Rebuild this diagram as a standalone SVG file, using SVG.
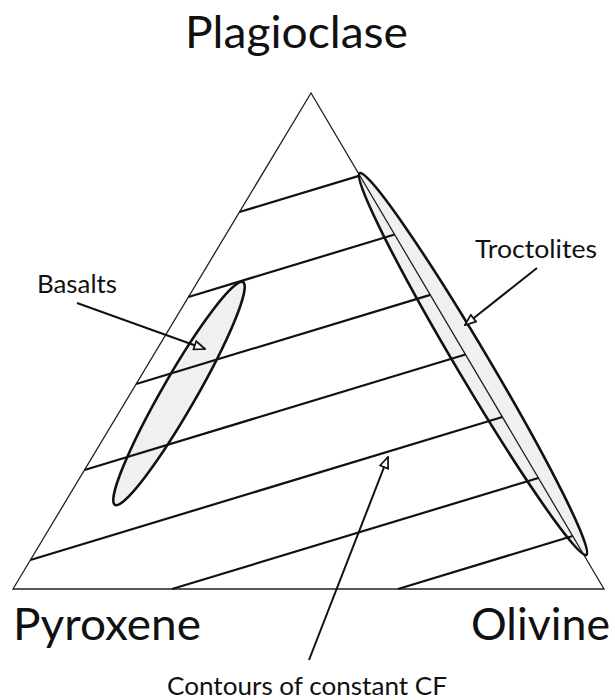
<svg xmlns="http://www.w3.org/2000/svg" width="615" height="700" viewBox="0 0 615 700">
  <style>
    .lbl { font-family: Lato, "Liberation Sans", Arial, sans-serif; fill: #111; }
    .big { font-size: 44px; }
    .small { font-size: 25px; }
    .edge { fill: none; stroke: #222; stroke-width: 1.3; stroke-linejoin: miter; }
    .contour { stroke: #111; stroke-width: 2.2; stroke-linecap: butt; }
    .field { fill: #eff1f1; stroke: none; }
    .outline { fill: none; stroke: #111; stroke-width: 2.6; }
    .arrow { stroke: #111; stroke-width: 2; fill: none; marker-end: url(#head); }
  </style>
  <defs>
    <marker id="head" viewBox="0 0 12 10" refX="11" refY="5" markerWidth="6.5" markerHeight="5.5" orient="auto" markerUnits="strokeWidth">
      <path d="M1,1 L11,5 L1,9 Z" fill="#fff" stroke="#111" stroke-width="1.6"/>
    </marker>
  </defs>

  <rect width="615" height="700" fill="#fff"/>

  <g id="basalts">
    <ellipse class="field" cx="179" cy="393.5" rx="128.5" ry="17" transform="rotate(-60.1 179 393.5)"/>
  </g>
  <g id="troctolites">
    <ellipse class="field" cx="473" cy="364" rx="222" ry="16" transform="rotate(59.3 473 364)"/>
  </g>

  <g id="triangle">
    <polygon class="edge" points="311,93 13,589 604,589"/>
  </g>

  <g id="contours">
    <line class="contour" x1="239.5" y1="212" x2="359.8" y2="175.6"/>
    <line class="contour" x1="188.4" y1="297" x2="394.6" y2="234.5"/>
    <line class="contour" x1="136.2" y1="384" x2="430.3" y2="294.9"/>
    <line class="contour" x1="84.5" y1="470" x2="465.5" y2="354.5"/>
    <line class="contour" x1="30.4" y1="560" x2="502.4" y2="417"/>
    <line class="contour" x1="172" y1="589" x2="538.4" y2="478"/>
    <line class="contour" x1="398" y1="589" x2="572.7" y2="536"/>
  </g>

  <g id="basalts-outline">
    <ellipse class="outline" cx="179" cy="393.5" rx="128.5" ry="17" transform="rotate(-60.1 179 393.5)"/>
  </g>
  <g id="troctolites-outline">
    <ellipse class="outline" cx="473" cy="364" rx="222" ry="16" transform="rotate(59.3 473 364)"/>
  </g>

  <g id="connectors">
    <line class="arrow" x1="77" y1="303" x2="205" y2="349"/>
    <line class="arrow" x1="537" y1="268" x2="465" y2="325"/>
    <line class="arrow" x1="309" y1="660" x2="388" y2="457"/>
  </g>

  <g id="label-plagioclase">
    <text class="lbl big" x="185" y="48" textLength="223" lengthAdjust="spacingAndGlyphs">Plagioclase</text>
  </g>
  <g id="label-pyroxene">
    <text class="lbl big" x="13" y="640" textLength="188" lengthAdjust="spacingAndGlyphs">Pyroxene</text>
  </g>
  <g id="label-olivine">
    <text class="lbl big" x="471" y="640" textLength="139" lengthAdjust="spacingAndGlyphs">Olivine</text>
  </g>
  <g id="label-basalts">
    <text class="lbl small" x="37" y="293" textLength="80" lengthAdjust="spacingAndGlyphs">Basalts</text>
  </g>
  <g id="label-troctolites">
    <text class="lbl small" x="475" y="258" textLength="122" lengthAdjust="spacingAndGlyphs">Troctolites</text>
  </g>
  <g id="label-contours">
    <text class="lbl small" x="167" y="695" textLength="280" lengthAdjust="spacingAndGlyphs">Contours of constant CF</text>
  </g>
</svg>
